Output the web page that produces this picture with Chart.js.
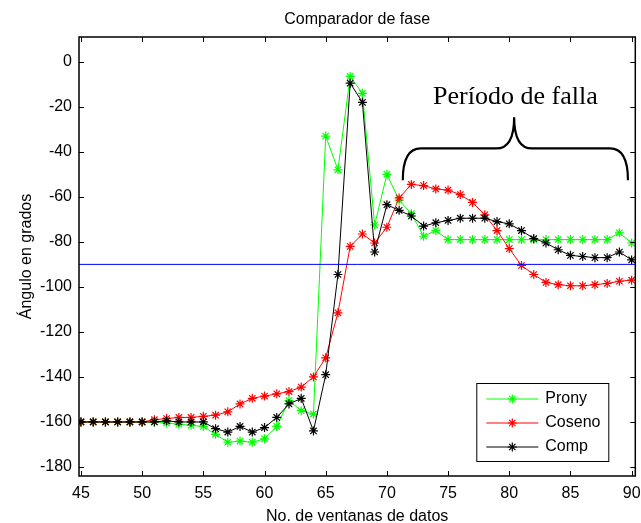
<!DOCTYPE html>
<html>
<head>
<meta charset="utf-8">
<script src="https://cdn.jsdelivr.net/npm/chart.js@4/dist/chart.umd.min.js"></script>
<style>
  html, body { margin: 0; padding: 0; background: #fff; }
  canvas { display: block; }
</style>
</head>
<body>
<canvas id="fase" width="641" height="523"></canvas>
<script>
// datos
var ventanas = [45, 46, 47, 48, 49, 50, 51, 52, 53, 54, 55, 56, 57, 58, 59, 60, 61, 62, 63, 64, 65, 66, 67,
  68, 69, 70, 71, 72, 73, 74, 75, 76, 77, 78, 79, 80, 81, 82, 83, 84, 85, 86, 87, 88, 89, 90];

var prony = [-160, -160, -160, -160, -160, -160, -160, -160.5, -161, -161.5, -162, -165.5, -169, -168.5, -169, -167.5,
  -162, -150.5, -155, -156.5, -33, -48, -6.5, -14, -72.5, -50, -61.5, -67.5, -77.5, -75, -79, -79, -79, -79, -79,
  -79, -79, -79, -79, -79, -79, -79, -79, -79, -76, -80.5];

var coseno = [-160, -160, -160, -160, -160, -160, -159, -158.5, -158, -158, -157.5, -157, -155.5, -152, -149.5, -148.5,
  -147.5, -146.5, -144.5, -140, -131.5, -111.5, -82, -76.5, -80.5, -73.5, -60.5, -54.5, -55, -56.5, -57, -59, -62.5,
  -68, -75, -83, -90.5, -94.5, -98, -99, -99.5, -99.5, -99, -98.5, -97.5, -97];

var comp = [-160, -160, -160, -160, -160, -160, -160, -159.5, -160, -160, -160, -163, -164.5, -162, -164.5, -162.5,
  -158, -152, -149.5, -164, -139, -94.5, -9.5, -18, -84.5, -63.5, -66, -68.5, -73, -71.5, -70.5, -69.5, -69.5, -69.5,
  -71, -72, -75, -78.5, -80.5, -83.5, -86, -86.5, -87, -87, -84.5, -88];

var umbral = -90;
var xTicks = [45, 50, 55, 60, 65, 70, 75, 80, 85, 90];
var yTicks = [-180, -160, -140, -120, -100, -80, -60, -40, -20, 0];

var xMin = 44.84, xMax = 90.3;
var yMin = -184, yMax = 11;

var fuente = 'Arial, "Liberation Sans", sans-serif';

function puntos(serie) {
  return ventanas.map(function(v, i) { return { x: v, y: serie[i] }; });
}

function serie(nombre, valores, color, orden) {
  return {
    label: nombre,
    data: puntos(valores),
    borderColor: color,
    backgroundColor: color,
    borderWidth: 1,
    pointStyle: 'star',
    pointRadius: 4.5,
    pointBorderWidth: 1.2,
    pointBorderColor: color,
    order: orden
  };
}

function estrella(ctx, x, y, r) {
  var d = r * Math.SQRT1_2;
  ctx.beginPath();
  ctx.moveTo(x - r, y); ctx.lineTo(x + r, y);
  ctx.moveTo(x, y - r); ctx.lineTo(x, y + r);
  ctx.moveTo(x - d, y - d); ctx.lineTo(x + d, y + d);
  ctx.moveTo(x - d, y + d); ctx.lineTo(x + d, y - d);
  ctx.stroke();
}

// marco con marcas hacia adentro, llave, texto y leyenda
var marco = {
  id: 'marco',
  afterDatasetsDraw: function(chart) {
    var ctx = chart.ctx, a = chart.chartArea;
    var sx = chart.scales.x, sy = chart.scales.y;
    var t = 5;
    ctx.save();

    ctx.strokeStyle = '#000';
    ctx.lineWidth = 1;
    ctx.beginPath();
    xTicks.forEach(function(v) {
      var p = Math.round(sx.getPixelForValue(v)) + 0.5;
      ctx.moveTo(p, a.bottom); ctx.lineTo(p, a.bottom - t);
      ctx.moveTo(p, a.top); ctx.lineTo(p, a.top + t);
    });
    yTicks.forEach(function(v) {
      var p = Math.round(sy.getPixelForValue(v)) + 0.5;
      ctx.moveTo(a.left, p); ctx.lineTo(a.left + t, p);
      ctx.moveTo(a.right, p); ctx.lineTo(a.right - t, p);
    });
    ctx.stroke();

    ctx.lineWidth = 1.5;
    ctx.strokeRect(a.left, a.top, a.right - a.left, a.bottom - a.top);

    // llave del periodo de falla
    var L = sx.getPixelForValue(71.3), R = sx.getPixelForValue(89.7);
    var M = sx.getPixelForValue(80.4);
    var yb = sy.getPixelForValue(-52.6), yh = sy.getPixelForValue(-38.5), yp = sy.getPixelForValue(-24.6);
    var r = 18;
    ctx.lineWidth = 2.2;
    ctx.beginPath();
    ctx.moveTo(L, yb);
    ctx.quadraticCurveTo(L, yh, L + r, yh);
    ctx.lineTo(M - r, yh);
    ctx.quadraticCurveTo(M, yh, M, yp);
    ctx.quadraticCurveTo(M, yh, M + r, yh);
    ctx.lineTo(R - r, yh);
    ctx.quadraticCurveTo(R, yh, R, yb);
    ctx.stroke();

    ctx.fillStyle = '#000';
    ctx.font = '26px "Liberation Serif", "Times New Roman", serif';
    ctx.textAlign = 'center';
    ctx.textBaseline = 'alphabetic';
    ctx.fillText('Período de falla', sx.getPixelForValue(80.5), sy.getPixelForValue(-18.8));

    // leyenda
    var bx = a.right - 159, by = a.bottom - 93, bw = 132, bh = 78;
    ctx.fillStyle = '#fff';
    ctx.fillRect(bx, by, bw, bh);
    ctx.lineWidth = 1;
    ctx.strokeStyle = '#000';
    ctx.strokeRect(bx + 0.5, by + 0.5, bw, bh);
    ctx.font = '16px ' + fuente;
    ctx.textAlign = 'left';
    ctx.textBaseline = 'middle';
    var filas = [0, 1, 2].map(function(i) { return chart.data.datasets[i]; });
    filas.forEach(function(ds, i) {
      var y = by + 16 + i * 24;
      ctx.strokeStyle = ds.borderColor;
      ctx.lineWidth = 1;
      ctx.beginPath();
      ctx.moveTo(bx + 10, y); ctx.lineTo(bx + 62, y);
      ctx.stroke();
      ctx.lineWidth = 1.2;
      estrella(ctx, bx + 36, y, 4.5);
      ctx.fillStyle = '#000';
      ctx.fillText(ds.label, bx + 69, y);
    });

    ctx.restore();
  }
};

var ctx = document.getElementById('fase').getContext('2d');
var grafica = new Chart(ctx, {
  type: 'line',
  data: {
    datasets: [
      serie('Prony', prony, '#00ff00', 3),
      serie('Coseno', coseno, '#ff0000', 2),
      serie('Comp', comp, '#000000', 1),
      {
        label: 'umbral',
        data: [{ x: xMin, y: umbral }, { x: xMax, y: umbral }],
        borderColor: '#0000ff',
        borderWidth: 1,
        pointRadius: 0,
        order: 0
      }
    ]
  },
  options: {
    responsive: false,
    animation: false,
    layout: { padding: { left: 0, right: 4, top: 0, bottom: 0 } },
    plugins: {
      legend: { display: false },
      tooltip: { enabled: false },
      title: {
        display: true,
        text: 'Comparador de fase',
        fullSize: false,
        color: '#000',
        font: { family: fuente, size: 16, weight: 'normal' },
        padding: { top: 10, bottom: 7.8 }
      }
    },
    scales: {
      x: {
        type: 'linear',
        min: xMin,
        max: xMax,
        afterBuildTicks: function(s) { s.ticks = xTicks.map(function(v) { return { value: v }; }); },
        afterFit: function(s) { s.height = 47; s.paddingLeft = 0; s.paddingRight = 0; },
        grid: { display: false, drawTicks: false },
        border: { display: false },
        ticks: { color: '#000', font: { family: fuente, size: 16 }, padding: 8, maxRotation: 0, autoSkip: false },
        title: {
          display: true,
          text: 'No. de ventanas de datos',
          color: '#000',
          font: { family: fuente, size: 16 },
          padding: { top: 0, bottom: -3 }
        }
      },
      y: {
        min: yMin,
        max: yMax,
        afterBuildTicks: function(s) { s.ticks = yTicks.map(function(v) { return { value: v }; }); },
        afterFit: function(s) { s.width = 79; s.paddingTop = 0; s.paddingBottom = 0; },
        grid: { display: false, drawTicks: false },
        border: { display: false },
        ticks: { color: '#000', font: { family: fuente, size: 16 }, padding: 7, autoSkip: false },
        title: {
          display: true,
          text: 'Ángulo en grados',
          color: '#000',
          font: { family: fuente, size: 16 },
          padding: { top: 17, bottom: 0 }
        }
      }
    }
  },
  plugins: [marco]
});
</script>
</body>
</html>
